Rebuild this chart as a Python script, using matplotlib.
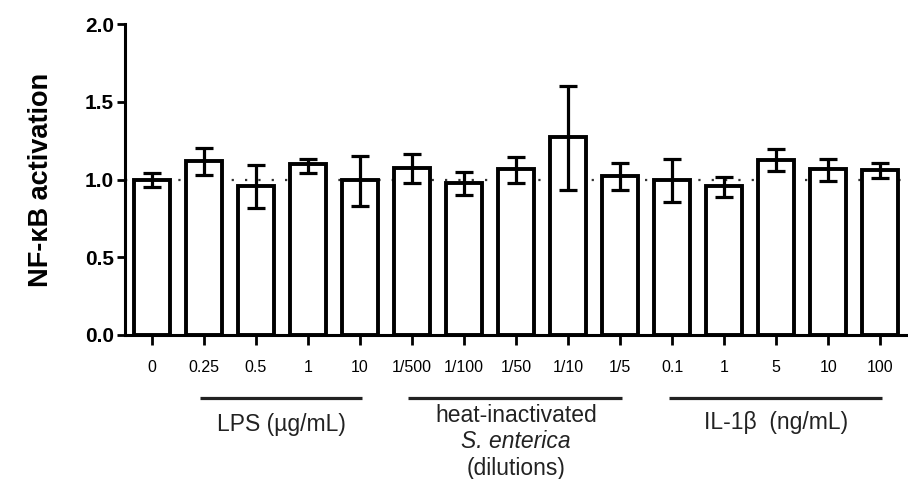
import matplotlib
matplotlib.use("Agg")
import matplotlib.pyplot as plt
import matplotlib.transforms as mtransforms
import numpy as np

plt.rcParams['font.family'] = ['Liberation Sans', 'DejaVu Sans']

tick_labels = ["0", "0.25", "0.5", "1", "10",
               "1/500", "1/100", "1/50", "1/10", "1/5",
               "0.1", "1", "5", "10", "100"]
means = [1.00, 1.12, 0.96, 1.10, 1.00,
         1.075, 0.975, 1.065, 1.275, 1.02,
         0.995, 0.955, 1.125, 1.065, 1.06]
err_lo = [0.95, 1.03, 0.815, 1.04, 0.83,
          0.975, 0.90, 0.975, 0.935, 0.93,
          0.855, 0.885, 1.055, 0.99, 1.01]
err_hi = [1.04, 1.20, 1.095, 1.135, 1.15,
          1.165, 1.05, 1.145, 1.60, 1.105,
          1.13, 1.015, 1.195, 1.135, 1.105]
group_names = ["LPS", "heat", "IL"]
group_spans = [(1, 4), (5, 9), (10, 14)]
# each group label: list of (text, style)
group_lines = [
    [("LPS (\u00b5g/mL)", "normal")],
    [("heat-inactivated", "normal"), ("S. enterica", "italic"), ("(dilutions)", "normal")],
    [("IL-1\u03b2  (ng/mL)", "normal")],
]

fig = plt.figure(figsize=(9.08, 4.79), dpi=100)
ax = fig.add_axes([125/908, 1-335/479, (908-125)/908, 311/479])

x = np.arange(len(means))
means_a = np.array(means)
yerr = np.vstack([means_a - np.array(err_lo), np.array(err_hi) - means_a])

ax.bar(x, means, width=0.69, color='white', edgecolor='black', linewidth=2.8, zorder=2)
ax.errorbar(x, means, yerr=yerr, fmt='none', ecolor='black', elinewidth=2.3,
            capsize=6.5, capthick=2.3, zorder=3)
ax.axhline(1.0, color='#333333', linestyle=(0, (1, 5)), linewidth=1.6, zorder=1)

ax.set_xlim(-0.51, 14.53)
ax.set_ylim(0, 2.0)
ax.set_yticks([0, 0.5, 1.0, 1.5, 2.0])
ax.set_yticklabels(["0.0", "0.5", "1.0", "1.5", "2.0"], fontsize=15, fontweight='bold')
ax.set_xticks(x)
ax.set_xticklabels(tick_labels, fontsize=11.5)
ax.tick_params(axis='x', length=7, width=2, pad=11)
ax.tick_params(axis='y', length=6, width=2, pad=2)

for s in ['top', 'right']:
    ax.spines[s].set_visible(False)
for s in ['left', 'bottom']:
    ax.spines[s].set_linewidth(2.2)

ax.set_ylabel("NF-\u03baB activation", fontsize=19.5, fontweight='bold', labelpad=22)

trans = mtransforms.blended_transform_factory(ax.transData, ax.transAxes)
def frac(py):
    return (335 - py) / 311

line_y = frac(397.5)
first_line_px = [424, 415, 422]
for (a, b), lines, py0 in zip(group_spans, group_lines, first_line_px):
    ax.plot([a - 0.07, b + 0.04], [line_y, line_y], transform=trans, color='#222222',
            linewidth=2.3, clip_on=False, solid_capstyle='butt')
    for i, (txt, style) in enumerate(lines):
        ax.text((a + b) / 2, frac(py0 + i * 27), txt, transform=trans, ha='center',
                va='center', fontsize=16.5, color='#222222', style=style)

fig.savefig("out.png", dpi=100)
